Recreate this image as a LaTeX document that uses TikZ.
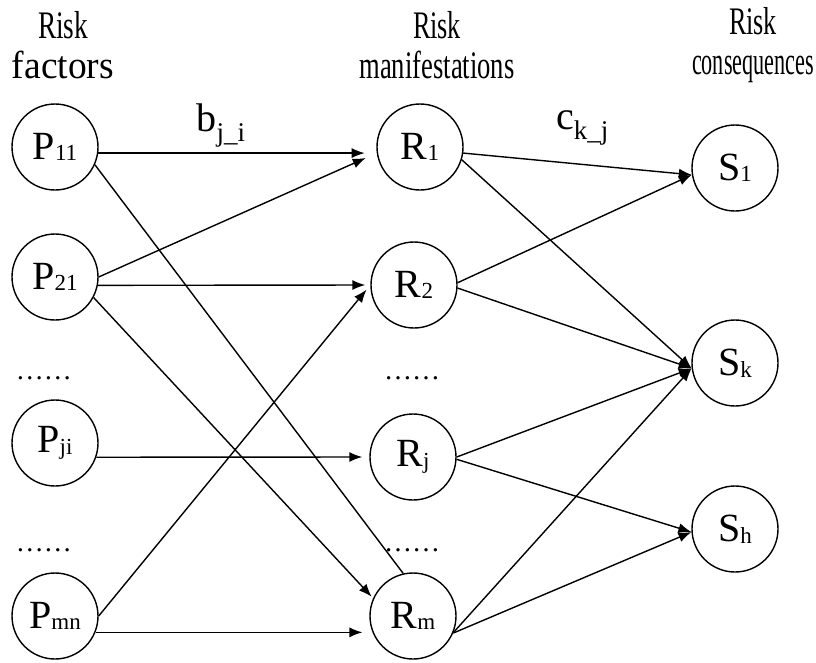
\documentclass[tikz,border=0pt]{standalone}
\usepackage{fontspec}
\usepackage{graphicx}
\setmainfont{Liberation Serif}
\usetikzlibrary{arrows.meta}
\newcommand{\idx}[1]{\raisebox{-1.5pt}{\fontsize{23}{23}\selectfont #1}}
\newcommand{\hw}[2]{\resizebox{#1}{\height}{#2}}
\begin{document}
\begin{tikzpicture}[x=1pt,y=-1pt,
	rnode/.style={circle,draw,line width=1.4pt,minimum size=86pt,inner sep=0pt,font=\fontsize{40}{40}\selectfont},
	head/.style={align=center,inner sep=0pt,font=\fontsize{39}{40}\selectfont},
	dots/.style={inner sep=0pt,font=\fontsize{28}{28}\selectfont},
	link/.style={line width=1.4pt,-{Latex[length=13pt,width=10pt]}},
	wlbl/.style={inner sep=0pt,font=\fontsize{40}{40}\selectfont}]
	\useasboundingbox (0,0) rectangle (816,662);
	% column headers
	\node[head](hf) at (63,45){\hw{50pt}{Risk}\\\hw{102pt}{factors}};
	\node[head](hm) at (437,45){\hw{48pt}{Risk}\\\hw{155pt}{manifestations}};
	\node[head](hc) at (753,45){\hw{48pt}{Risk}\\\hw{122pt}{consequences}};
	% risk factors
	\node[rnode](P11) at (55,147){P\idx{11}};
	\node[rnode](P21) at (55,277){P\idx{21}};
	\node[dots](dp1) at (44,378){……};
	\node[rnode](Pji) at (55,443){P\idx{ji}};
	\node[dots](dp2) at (44,550){……};
	\node[rnode](Pmn) at (55,616){P\idx{mn}};
	% risk manifestations
	\node[rnode](R1) at (420,147){R\idx{1}};
	\node[rnode](R2) at (414,285){R\idx{2}};
	\node[dots](dr1) at (412,378){……};
	\node[rnode](Rj) at (413,457){R\idx{j}};
	\node[dots](dr2) at (412,550){……};
	\node[rnode](Rm) at (413,616){R\idx{m}};
	% risk consequences
	\node[rnode](S1) at (735,168){S\idx{1}};
	\node[rnode](Sk) at (735,363){S\idx{k}};
	\node[rnode](Sh) at (735,529){S\idx{h}};
	% factors -> manifestations
	\draw[link,shorten >=12pt](P11.-8)--(R1.188) node[wlbl,pos=0.44,above=5pt]{b\raisebox{-10pt}{\fontsize{27}{27}\selectfont j\_i}};
	\draw[link,shorten >=12pt](P21.0)--(R1.188);
	\draw[link,shorten >=5pt](P21.-11)--(R2.west);
	\draw[link,shorten >=2pt](P21.-28)--(Rm.156);
	\draw[line width=1.4pt](P11.-24)--(Rm.103);
	\draw[link,shorten >=6pt](Pmn.0)--(R2.west);
	\draw[link,shorten >=7pt](Pji.-19)--(Rj.west);
	\draw[link,shorten >=10pt](Pmn.-22)--(Rm.202);
	% manifestations -> consequences
	\draw[link](R1.-8)--(S1.189) node[wlbl,pos=0.52,above=18pt]{c\raisebox{-10pt}{\fontsize{27}{27}\selectfont k\_j}};
	\draw[link](R1.-17)--(Sk.187);
	\draw[link](R2.3)--(S1.189);
	\draw[link](R2.-4)--(Sk.187);
	\draw[link](Rj.0)--(Sk.187);
	\draw[link](Rj.-3)--(Sh.184);
	\draw[link](Rm.-22)--(Sk.187);
	\draw[link](Rm.-23)--(Sh.184);
\end{tikzpicture}
\end{document}
